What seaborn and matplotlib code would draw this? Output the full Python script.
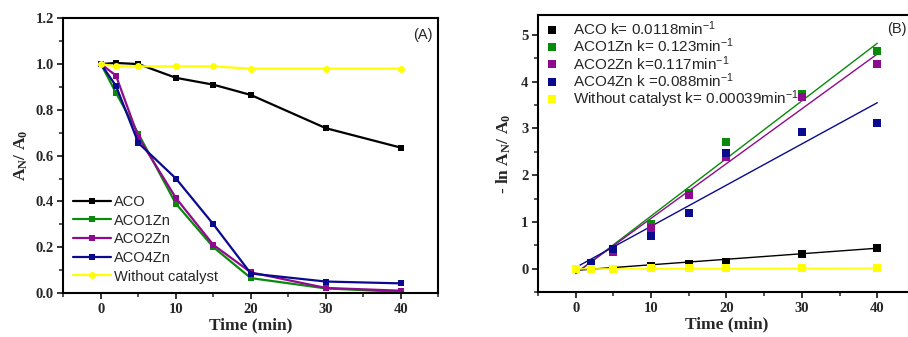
import numpy as np
import pandas as pd
import matplotlib
matplotlib.use("Agg")
import matplotlib.pyplot as plt
import seaborn as sns
from matplotlib.ticker import MultipleLocator, FormatStrFormatter
from matplotlib.lines import Line2D
from matplotlib.font_manager import FontProperties

sns.set_style("ticks")
plt.rcParams["font.family"] = ["Liberation Sans", "DejaVu Sans"]
plt.rcParams["mathtext.fontset"] = "custom"
plt.rcParams["mathtext.rm"] = "Liberation Sans"
plt.rcParams["mathtext.it"] = "Liberation Sans:italic"
plt.rcParams["mathtext.bf"] = "Liberation Sans:bold"

# ---- data ----
time = [0, 2, 5, 10, 15, 20, 30, 40]
series = ["ACO", "ACO1Zn", "ACO2Zn", "ACO4Zn", "Without catalyst"]
colors = ["#000000", "#0a8a0a", "#8e0a8e", "#0a0a8e", "#ffff00"]
markers = ["s", "s", "s", "s", "o"]

# relative absorbance A_N / A_0
ratio_aco = [1.0, 1.005, 1.0, 0.94, 0.91, 0.865, 0.72, 0.635]
ratio_aco1zn = [1.0, 0.875, 0.695, 0.39, 0.20, 0.065, 0.02, 0.005]
ratio_aco2zn = [1.0, 0.95, 0.68, 0.415, 0.21, 0.09, 0.022, 0.01]
ratio_aco4zn = [1.0, 0.905, 0.655, 0.50, 0.30, 0.085, 0.05, 0.042]
ratio_blank = [1.0, 0.99, 0.99, 0.99, 0.99, 0.98, 0.98, 0.98]
ratios = [ratio_aco, ratio_aco1zn, ratio_aco2zn, ratio_aco4zn, ratio_blank]

# -ln(A_N / A_0) kinetic points
lnr_aco = [0.0, 0.0, 0.0, 0.07, 0.11, 0.14, 0.32, 0.45]
lnr_aco1zn = [0.0, 0.13, 0.40, 0.96, 1.63, 2.72, 3.73, 4.65]
lnr_aco2zn = [0.0, 0.10, 0.37, 0.87, 1.57, 2.38, 3.68, 4.38]
lnr_aco4zn = [0.0, 0.12, 0.43, 0.70, 1.20, 2.47, 2.93, 3.12]
lnr_blank = [0.0, 0.0, 0.0, 0.01, 0.01, 0.01, 0.015, 0.02]
lnrs = [lnr_aco, lnr_aco1zn, lnr_aco2zn, lnr_aco4zn, lnr_blank]

# pseudo-first-order fits: slope k (min^-1) and intercept
rate_k = [0.0118, 0.123, 0.117, 0.088, 0.00039]
k_text = ["0.0118", "0.123", "0.117", "0.088", "0.00039"]
k_sep = [" k= ", " k= ", " k=", " k =", " k= "]
intercepts = [-0.03, -0.10, -0.09, 0.03, 0.0]
fit_span = [0, 40]

df_a = pd.DataFrame({
    "time": np.tile(time, len(series)),
    "ratio": np.concatenate(ratios),
    "sample": np.repeat(series, len(time)),
})

fig = plt.figure(figsize=(9.08, 3.37), dpi=100)
ax1 = fig.add_axes([0.0699, 0.1306, 0.4128, 0.8151])
ax2 = fig.add_axes([0.5925, 0.1326, 0.4152, 0.8238])

tick_font = dict(family="Liberation Serif", weight="bold", size=10.5)
label_font = dict(family="Liberation Serif", weight="bold", size=12.5)

# ---- panel A ----
for name, col, mk in zip(series, colors, markers):
    sub = df_a[df_a["sample"] == name]
    sns.lineplot(data=sub, x="time", y="ratio", ax=ax1, color=col, marker=mk,
                 markersize=5, markeredgewidth=0, linewidth=1.6, label=name)

ax1.set_xlim(-5, 45)
ax1.set_ylim(0, 1.2)
ax1.xaxis.set_major_locator(MultipleLocator(10))
ax1.xaxis.set_minor_locator(MultipleLocator(5))
ax1.yaxis.set_major_locator(MultipleLocator(0.2))
ax1.yaxis.set_minor_locator(MultipleLocator(0.1))
ax1.yaxis.set_major_formatter(FormatStrFormatter("%.1f"))
ax1.set_xlabel("Time (min)", **label_font, labelpad=1)
ax1.set_ylabel("A$_\\mathregular{N}$/ A$_\\mathregular{0}$", family="Liberation Serif",
               weight="bold", size=12.5, labelpad=4)
ax1.text(0.985, 0.94, "(A)", transform=ax1.transAxes, ha="right", va="center", fontsize=10.5)
ax1.legend(loc="lower left", bbox_to_anchor=(0.0, 0.0), frameon=False,
           fontsize=10.5, handlelength=2.6, handletextpad=0.2,
           labelspacing=0.32, borderaxespad=0.4, borderpad=0.25)

# ---- panel B ----
for i, (name, col) in enumerate(zip(series, colors)):
    fit_y = [intercepts[i] + rate_k[i] * t for t in fit_span]
    sns.lineplot(x=fit_span, y=fit_y, ax=ax2, color=col, linewidth=1.0,
                 legend=False)
for i, (name, col) in enumerate(zip(series, colors)):
    sns.scatterplot(x=time, y=lnrs[i], ax=ax2, color=col, marker="s", s=30,
                    linewidth=0, legend=False, zorder=3)

ax2.set_xlim(-5, 45)
ax2.set_ylim(-0.5, 5.43)
ax2.xaxis.set_major_locator(MultipleLocator(10))
ax2.xaxis.set_minor_locator(MultipleLocator(5))
ax2.yaxis.set_major_locator(MultipleLocator(1))
ax2.yaxis.set_minor_locator(MultipleLocator(0.5))
ax2.set_xlabel("Time (min)", **label_font, labelpad=1)
ax2.set_ylabel("- ln A$_\\mathregular{N}$/ A$_\\mathregular{0}$", family="Liberation Serif",
               weight="bold", size=12.5, labelpad=6)
fig.text(0.999, 0.915, "(B)", ha="right", va="center", fontsize=10.5)

handles = [Line2D([], [], linestyle="none", marker="s", markersize=5.5,
                  markeredgewidth=0, color=c) for c in colors]
labels = [f"{n}{sep}{kt}min$^{{\\mathregular{{-1}}}}$"
          for n, sep, kt in zip(series, k_sep, k_text)]
ax2.legend(handles, labels, loc="upper left", frameon=False, fontsize=11,
           handlelength=1.2, handletextpad=0.8, labelspacing=-0.08,
           borderaxespad=0.15, borderpad=0.15)

for ax in (ax1, ax2):
    for sp in ax.spines.values():
        sp.set_linewidth(1.5)
        sp.set_color("black")
    ax.tick_params(which="major", direction="out", length=4.5, width=1.3,
                   top=False, right=False, pad=2.5)
    ax.tick_params(which="minor", direction="out", length=3, width=1.1,
                   top=False, right=False)
    for lab in ax.get_xticklabels() + ax.get_yticklabels():
        lab.set_fontproperties(FontProperties(**tick_font))

fig.savefig("out.png", dpi=100)
